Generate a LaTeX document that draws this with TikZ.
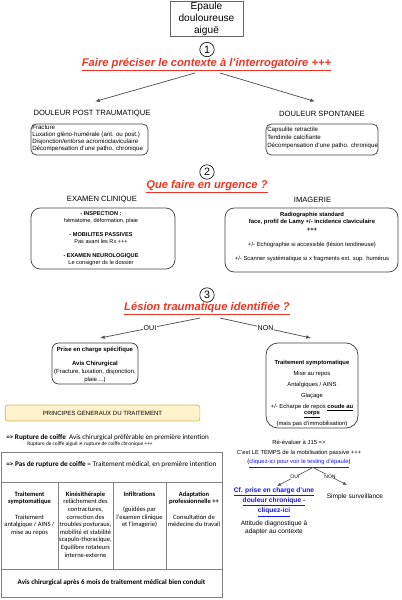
\documentclass[tikz,border=0pt]{standalone}
\usepackage{fontspec}
\setmainfont{Liberation Sans}
\newfontfamily\calfont{Carlito}
\newfontfamily\djvfont{DejaVu Sans}
\usetikzlibrary{arrows.meta}
\definecolor{titred}{RGB}{237,52,36}
\definecolor{lnk}{RGB}{20,20,235}
\definecolor{lgray}{RGB}{80,80,80}
\definecolor{tabline}{RGB}{128,128,128}
\definecolor{pfill}{RGB}{255,242,204}
\definecolor{pdraw}{RGB}{214,182,86}
\newcommand{\fsz}[2]{\fontsize{#1}{#2}\selectfont}
\begin{document}
\begin{tikzpicture}[x=0.75pt,y=-0.75pt]
\tikzset{
  ttl/.style={text=titred, font=\fsz{8.4}{10}\bfseries\itshape, inner sep=0pt, anchor=base},
  num/.style={circle, draw=black, line width=0.5pt, minimum size=10.8pt, inner sep=0pt, font=\fsz{8}{9}},
  caplab/.style={font=\fsz{5.7}{7}, inner sep=0pt},
  arr/.style={draw=lgray, line width=0.55pt, -{Latex[length=3.6pt,width=2.8pt]}},
  arrsm/.style={draw=lgray, line width=0.45pt, -{Latex[length=3pt,width=2.4pt]}},
  rbox/.style={draw=black!75, line width=0.55pt},
  lbl/.style={fill=white, inner sep=0.4pt, font=\fsz{5.3}{6}},
  lblsm/.style={fill=white, inner sep=0.3pt, font=\fsz{3.8}{4.5}},
  coltxt/.style={anchor=north, align=center, inner sep=0pt, font=\calfont\fsz{4.9}{5.7}},
}
\useasboundingbox (0,0) rectangle (401,600);

% top box
\node[draw=black!60, line width=0.6pt, minimum width=54.75pt, minimum height=26.5pt, inner sep=0pt,
      align=center, font=\fsz{7.6}{9.2}] (top) at (206.5,18.8) {Epaule\\douloureuse\\aiguë};

% section 1
\node[num] (c1) at (207,49.5) {1};
\node[ttl] (t1) at (206.5,66) {\underline{Faire préciser le contexte à l'interrogatoire +++}};
\node[caplab] (postlab) at (92,114) {DOULEUR POST TRAUMATIQUE};
\node[caplab] (spontlab) at (322,114) {DOULEUR SPONTANEE};
\coordinate (a1s) at (195,73);
\coordinate (a1e) at (95,101.5);
\coordinate (a2s) at (220,73);
\coordinate (a2e) at (315,101.5);
\draw[arr] (a1s) -- (a1e);
\draw[arr] (a2s) -- (a2e);

\node[rbox, rounded corners=4pt, minimum width=87.75pt, minimum height=23.25pt] (postbox) at (89.5,139.5) {};
\node[anchor=west, align=left, inner sep=0pt, font=\fsz{4.6}{5.25}] (posttxt) at (32,138.8)
  {Fracture\\Luxation gléno-humérale (ant. ou post.)\\Disjonction/entorse acromioclaviculaire\\Décompensation d'une patho. chronique};
\node[rbox, rounded corners=4pt, minimum width=84pt, minimum height=23.25pt] (spontbox) at (322,139.5) {};
\node[anchor=west, align=left, inner sep=0pt, font=\fsz{4.6}{6}] (sponttxt) at (267,138.3)
  {Capsulite retractile\\Tendinite calcifiante\\Décompensation d'une patho. chronique};

% section 2
\node[num] (c2) at (207,172) {2};
\node[ttl] (t2) at (207,188.5) {\underline{Que faire en urgence ?}};
\node[caplab] (examlab) at (102,200) {EXAMEN CLINIQUE};
\node[caplab] (imglab) at (312.5,200) {IMAGERIE};

\node[rbox, rounded corners=7pt, minimum width=108pt, minimum height=45.75pt] (exambox) at (103,238.5) {};
\node[align=center, inner sep=0pt, font=\fsz{4.2}{5.25}] (examtxt) at (101,239)
  {\textbf{- INSPECTION :}\\hématome, déformation, plaie\\[5.25pt]\textbf{- MOBILITES PASSIVES}\\Pas avant les Rx +++\\[5.25pt]\textbf{- EXAMEN NEUROLOGIQUE}\\Le consigner ds le dossier};

\node[rbox, rounded corners=7pt, minimum width=129.75pt, minimum height=48pt] (imgbox) at (311.5,240) {};
\node[align=center, inner sep=0pt, font=\fsz{4.4}{5.6}] (imgtxt) at (312,237)
  {\textbf{Radiographie standard}\\\textbf{face, profil de Lamy +/- incidence claviculaire}\\\textbf{+++}\\[6pt]+/- Echographie si accessible (lésion tendineuse)\\[5pt]+/- Scanner systématique si x fragments ext. sup. humérus};

% section 3
\node[num] (c3) at (207,295) {3};
\node[ttl] (t3) at (207,310.5) {\underline{Lésion traumatique identifiée ?}};
\coordinate (o1) at (200,318);
\coordinate (o2) at (100,338);
\coordinate (n1) at (220,318);
\coordinate (n2) at (311,338);
\draw[arr] (o1) -- node[lbl] {OUI} (o2);
\draw[arr] (n1) -- node[lbl] {NON} (n2);

\node[rbox, rounded corners=5pt, minimum width=64.5pt, minimum height=30.75pt] (pecbox) at (95,363.5) {};
\node[align=center, inner sep=0pt, font=\fsz{4.5}{6}] (pectxt) at (95,364.5)
  {\textbf{Prise en charge spécifique}\\[4.5pt]\textbf{Avis Chirurgical}\\(Fracture, luxation, disjonction,\\plaie....)};

\node[rbox, rounded corners=9pt, minimum width=69pt, minimum height=63.75pt] (symbox) at (312,385.5) {};
\node[align=center, inner sep=0pt, font=\fsz{4.4}{8.25}] (symtxt) at (312,393.5)
  {\textbf{Traitement symptomatique}\\Mise au repos\\Antalgiques / AINS\\Glaçage\\+/- Echarpe de repos \underline{\textbf{coude au}}\\[-3.7pt]\underline{\textbf{corps}}\\(mais pas d'immobilisation)};

% principes
\node[draw=pdraw, fill=pfill, line width=0.5pt, rounded corners=2pt, minimum width=146pt, minimum height=12pt,
      inner sep=0pt, font=\fsz{4.55}{5}] (princ) at (102.5,413) {PRINCIPES GENERAUX DU TRAITEMENT};
\node[anchor=west, inner sep=0pt, font=\calfont\fsz{5.35}{6}] (rupt) at (6,437.5)
  {\textbf{=> Rupture de coiffe}\ \ Avis chirurgical préférable en première intention};
\node[inner sep=0pt, font=\calfont\fsz{4}{4.5}] (ruptsm) at (90,444)
  {Rupture de coiffe aiguë {\djvfont\fsz{3.6}{4}≠} rupture de coiffe chronique +++};

% table
\draw[draw=tabline, line width=0.75pt] (1,452) rectangle (222,597);
\draw[draw=tabline, line width=0.75pt] (1,482) -- (222,482);
\draw[draw=tabline, line width=0.75pt] (1,569) -- (222,569);
\draw[draw=tabline, line width=0.75pt] (58,482) -- (58,569);
\draw[draw=tabline, line width=0.75pt] (113,482) -- (113,569);
\draw[draw=tabline, line width=0.75pt] (166,482) -- (166,569);
\node[anchor=west, inner sep=0pt, font=\calfont\fsz{5.4}{6}] (pas) at (6,464.5)
  {\textbf{=> Pas de rupture de coiffe} = Traitement médical, en première intention};
\node[coltxt] (col1) at (29.5,491.5) {\textbf{Traitement}\\\textbf{symptomatique}\\[5.6pt]Traitement\\antalgique / AINS /\\mise au repos};
\node[coltxt] (col2) at (85.5,491.5) {\textbf{Kinésithérapie}\\relâchement des\\contractures,\\correction des\\troubles posturaux,\\mobilité et stabilité\\scapulo-thoracique,\\Equilibre rotateurs\\interne-externe};
\node[coltxt] (col3) at (139.5,491.5) {\textbf{Infiltrations}\\[5.6pt](guidées par\\l'examen clinique\\et l'imagerie)};
\node[coltxt] (col4) at (194,491.5) {\textbf{Adaptation}\\\textbf{professionnelle ++}\\[5.6pt]Consultation de\\médecine du travail};
\node[inner sep=0pt, font=\calfont\bfseries\fsz{5.3}{6}] (avis) at (111.5,583)
  {Avis chirurgical après 6 mois de traitement médical bien conduit};

% re-evaluation
\node[align=center, inner sep=0pt, font=\fsz{4.4}{7.1}] (reeval) at (299,454)
  {Ré-évaluer à J15 =>\\C'est LE TEMPS de la mobilisation passive +++\\(\textcolor{lnk}{\underline{cliquez-ici pour voir le testing d'épaule}})};
\coordinate (rv) at (313,467.5);
\coordinate (chr) at (277,486);
\coordinate (srv) at (347,485);
\draw[arrsm] (rv) -- node[lblsm] {OUI} (chr);
\draw[arrsm] (rv) -- node[lblsm] {NON} (srv);
\node[align=center, inner sep=0pt, text=lnk, font=\bfseries\fsz{5}{6}] (chron) at (274,502)
  {\underline{Cf. prise en charge d'une}\\\underline{douleur chronique -}\\\underline{cliquez-ici}};
\node[align=center, inner sep=0pt, font=\fsz{4.9}{6}] (att) at (274,528) {Attitude diagnostique à\\adapter au contexte};
\node[inner sep=0pt, font=\fsz{4.9}{6}] (surv) at (355,497) {Simple surveillance};
\end{tikzpicture}
\end{document}
